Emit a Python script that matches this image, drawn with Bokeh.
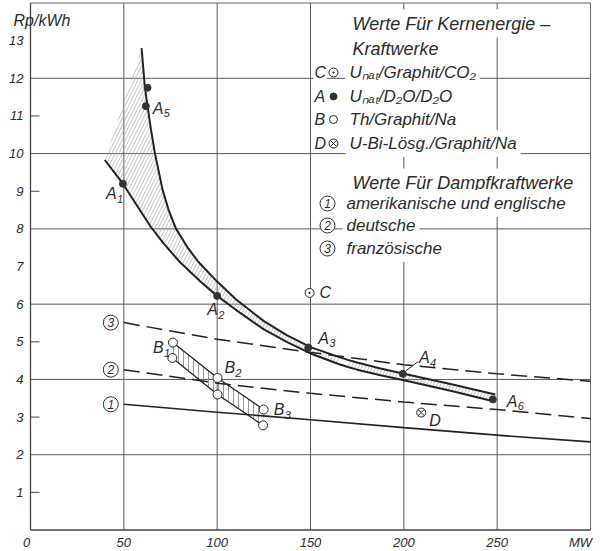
import numpy as np
from bokeh.plotting import figure
from bokeh.models import Range1d
from bokeh.core.properties import value
from bokeh.embed import file_html
from bokeh.resources import INLINE

# ---------------- data ----------------
x_limits = [0, 300]
y_limits = [0, 14]
x_ticks = [0, 50, 100, 150, 200, 250, 300]
x_tick_labels = ["0", "50", "100", "150", "200", "250", "MW"]
y_ticks = list(range(1, 14))
y_tick_labels = [str(v) for v in y_ticks]
y_minor_ticks = [1, 3, 5, 9, 11]
x_grid_ticks = [50, 100, 150, 200, 250]
y_grid_ticks = [2, 4, 6, 8, 10, 12]
y_title = "Rp/kWh"

# nuclear (A) band: upper and lower boundary curves
a_upper_x = [59.5, 61.3, 62.7, 64.5, 66.5, 70.7, 74, 78, 84.5, 90, 100, 110, 125, 137.5, 150,
             165, 170, 175, 187.5, 200, 225, 249]
a_upper_y = [12.8, 11.75, 11.26, 10.65, 10.05, 9.05, 8.5, 8.0, 7.48, 7.12, 6.6, 6.13, 5.55, 5.17, 4.86,
             4.6, 4.52, 4.45, 4.29, 4.15, 3.88, 3.6]
a_lower_x = [39.8, 49.5, 57, 64.5, 71.5, 80, 91, 100, 112.5, 125, 137.5, 150,
             165, 170, 175, 187.5, 200, 225, 248]
a_lower_y = [9.83, 9.2, 8.62, 8.05, 7.6, 7.12, 6.6, 6.22, 5.76, 5.33, 4.99, 4.69,
             4.41, 4.33, 4.26, 4.11, 3.98, 3.7, 3.42]

# Th/Graphit/Na (B) band
b_upper_x = [76.3, 100.2, 124.9]
b_upper_y = [4.98, 4.04, 3.2]
b_lower_x = [76.0, 100.2, 124.6]
b_lower_y = [4.57, 3.6, 2.78]

# steam power plants
steam_x = [50, 100, 150, 200, 250, 300]
steam1_y = [3.34, 3.13, 2.93, 2.72, 2.52, 2.34]   # amerikanische und englische
steam2_y = [4.26, 3.90, 3.63, 3.40, 3.20, 2.96]   # deutsche
steam3_y = [5.51, 5.07, 4.72, 4.39, 4.15, 3.95]   # französische
steam_names = ["1", "2", "3"]

# points
a_pts_x = [49.5, 61.8, 62.7, 100, 148.8, 199.5, 247.7]
a_pts_y = [9.2, 11.26, 11.75, 6.22, 4.85, 4.15, 3.47]
a_pts_sub = ["1", "5", "", "2", "3", "4", "6"]
b_pts_sub = ["1", "2", "3"]
c_pt = (149.5, 6.3)
d_pt = (209.3, 3.12)

# legend texts
legend_head1 = ["Werte Für Kernenergie –", "Kraftwerke"]
legend_letters = ["C", "A", "B", "D"]
legend_reactors = ["Uₙₐₜ/Graphit/CO₂", "Uₙₐₜ/D₂O/D₂O", "Th/Graphit/Na", "U-Bi-Lösg./Graphit/Na"]
legend_head2 = "Werte Für Dampfkraftwerke"
legend_steam = ["amerikanische und englische", "deutsche", "französische"]

# ---------------- layout helpers (pixel -> data) ----------------
W, H = 600, 550
PX_X = 560.0 / 300.0      # pixels per MW
PX_Y = 37.64              # pixels per Rp/kWh
X0, Y0 = 30.0, 529.5      # pixel position of the origin

def dx(px):
    return (px - X0) / PX_X

def dy(py):
    return (Y0 - py) / PX_Y

FONT = value("Liberation Sans")
INK = "#222222"
TXT = "#2b2b2b"
GRID = "#5a5a5a"

p = figure(width=W, height=H, output_backend="svg", toolbar_location=None,
           x_axis_type=None, y_axis_type=None,
           x_range=Range1d(dx(0), dx(W)), y_range=Range1d(dy(H), dy(0)),
           min_border=0, outline_line_color=None)
p.background_fill_color = "white"
p.border_fill_color = "white"

# grid
p.segment(x0=x_grid_ticks, y0=[y_limits[0]] * len(x_grid_ticks), x1=x_grid_ticks,
          y1=[y_limits[1]] * len(x_grid_ticks), line_color=GRID, line_width=1)
p.segment(x0=[x_limits[0]] * len(y_grid_ticks), y0=y_grid_ticks, x1=[x_limits[1]] * len(y_grid_ticks),
          y1=y_grid_ticks, line_color=GRID, line_width=1)
# frame
p.multi_line(xs=[[x_limits[1], x_limits[1]], [x_limits[0], x_limits[1]]],
             ys=[[y_limits[0], y_limits[1]], [y_limits[1], y_limits[1]]], line_color="#666666", line_width=1)
p.multi_line(xs=[[x_limits[0], x_limits[0]], [x_limits[0], x_limits[1]]],
             ys=[[y_limits[0], y_limits[1]], [y_limits[0], y_limits[0]]], line_color="#444444", line_width=1.3)
# minor ticks on the y axis
p.segment(x0=[x_limits[0]] * len(y_minor_ticks), y0=y_minor_ticks,
          x1=[x_limits[0] + 9 / PX_X] * len(y_minor_ticks), y1=y_minor_ticks, line_color="#444444", line_width=1)

tick = dict(text_font=FONT, text_font_style="italic", text_font_size="13px", text_color=TXT,
            text_baseline="middle")
p.text([dx(23)] * len(y_ticks), y_ticks, text=y_tick_labels, text_align="right", **tick)
p.text(x_ticks, [dy(542)] * len(x_ticks), text=x_tick_labels, text_align="center",
       x_offset=[-4, 0, 0, 0, 0, 0, -10], **tick)
p.text([dx(13)], [dy(20)], text=[y_title], text_align="left", text_font=FONT, text_font_style="italic",
       text_font_size="16px", text_color=TXT, text_baseline="middle")

# hatched nuclear band (two pieces, gap where dashed line crosses)
ux, uy = np.array(a_upper_x), np.array(a_upper_y)
lx, ly = np.array(a_lower_x), np.array(a_lower_y)
for mu, ml in ((ux <= 165, lx <= 165), (ux >= 170, lx >= 170)):
    p.patch(np.concatenate([ux[mu], lx[ml][::-1]]), np.concatenate([uy[mu], ly[ml][::-1]]),
            fill_alpha=0, line_alpha=0, hatch_pattern="/",
            hatch_color="#a8a8a8", hatch_scale=7, hatch_weight=0.7)

# hatched B band
p.patch(b_upper_x + b_lower_x[::-1], b_upper_y + b_lower_y[::-1], fill_alpha=0, line_alpha=0,
        hatch_pattern="|", hatch_color="#808080", hatch_scale=5, hatch_weight=0.8)

# curves
p.line(a_upper_x, a_upper_y, line_color=INK, line_width=2)
p.line(a_lower_x, a_lower_y, line_color=INK, line_width=2)
p.line(b_upper_x, b_upper_y, line_color=INK, line_width=1.3)
p.line(b_lower_x, b_lower_y, line_color=INK, line_width=1.3)
p.line(steam_x, steam1_y, line_color=INK, line_width=1.6)
p.line(steam_x, steam2_y, line_color=INK, line_width=1.5, line_dash="16 7")
p.line(steam_x, steam3_y, line_color=INK, line_width=1.5, line_dash="16 7")

# circled numbers at the start of steam curves
starts_y = [steam1_y[0], steam2_y[0], steam3_y[0]]
cx = [steam_x[0] - 13 / PX_X] * 3
circ = dict(marker="circle", size=15, fill_color="white", line_color=TXT, line_width=1)
num = dict(text_align="center", text_baseline="middle", text_font=FONT, text_font_style="italic",
           text_font_size="12px", text_color=TXT)
p.scatter(cx, starts_y, **circ)
p.text(cx, starts_y, text=steam_names, **num)

# points
p.scatter(a_pts_x, a_pts_y, marker="circle", size=7, fill_color="#333333", line_color="#333333")
p.scatter(b_upper_x + b_lower_x, b_upper_y + b_lower_y, marker="circle", size=9,
          fill_color="white", line_color=INK, line_width=1)
p.scatter([c_pt[0]], [c_pt[1]], marker="circle_dot", size=9, fill_color="white", line_color=INK)
p.scatter([d_pt[0]], [d_pt[1]], marker="circle_x", size=9, fill_color="white", line_color=INK)

# point labels (letter + subscript)
lab = dict(text_font=FONT, text_font_style="italic", text_font_size="16px", text_color=TXT,
           text_baseline="middle", text_align="left")
sub = dict(text_font=FONT, text_font_style="italic", text_font_size="11px", text_color=TXT,
           text_baseline="middle", text_align="left")
a_idx = [i for i, s in enumerate(a_pts_sub) if s]
a_off_x = {0: -17, 1: 7, 3: -10, 4: 10, 5: 16, 6: 14}
a_off_y = {0: 10, 1: 2, 3: 14, 4: -9, 5: -16, 6: 2}
ax_ = [a_pts_x[i] for i in a_idx]
ay_ = [a_pts_y[i] for i in a_idx]
p.text(ax_, ay_, text=["A"] * len(a_idx), x_offset=[a_off_x[i] for i in a_idx],
       y_offset=[a_off_y[i] for i in a_idx], **lab)
p.text(ax_, ay_, text=[a_pts_sub[i] for i in a_idx], x_offset=[a_off_x[i] + 11 for i in a_idx],
       y_offset=[a_off_y[i] + 5 for i in a_idx], **sub)
# leader line for A4
p.segment(x0=[a_pts_x[5] + 3 / PX_X], y0=[a_pts_y[5] + 3 / PX_Y], x1=[a_pts_x[5] + 15 / PX_X],
          y1=[a_pts_y[5] + 12 / PX_Y], line_color=INK, line_width=1)

b_off_x = [-20, 7, 10]
b_off_y = [5, -10, 0]
p.text(b_upper_x, b_upper_y, text=["B"] * 3, x_offset=b_off_x, y_offset=b_off_y, **lab)
p.text(b_upper_x, b_upper_y, text=b_pts_sub, x_offset=[o + 11 for o in b_off_x],
       y_offset=[o + 5 for o in b_off_y], **sub)
p.text([c_pt[0]], [c_pt[1]], text=["C"], x_offset=[10], y_offset=[0], **lab)
p.text([d_pt[0]], [d_pt[1]], text=["D"], x_offset=[8], y_offset=[8], **lab)

# legend block
leg = dict(text_font=FONT, text_font_style="italic", text_color=TXT,
           text_baseline="middle", text_align="left", background_fill_color="white")
p.text([dx(348)] * 2, [dy(23), dy(48)], text=legend_head1, text_font_size="18px", padding=4, **leg)
rows_y = [dy(72), dy(96), dy(119), dy(143)]
p.text([dx(313)] * 4, rows_y, text=legend_letters, text_font_size="16px", padding=1, **leg)
p.text([dx(345)] * 4, rows_y, text=legend_reactors, text_font_size="17px", padding=4, **leg)
p.scatter([dx(333)], [rows_y[0]], marker="circle_dot", size=9, fill_color="white", line_color=INK)
p.scatter([dx(333)], [rows_y[1]], marker="circle", size=7, fill_color="#333333", line_color="#333333")
p.scatter([dx(333)], [rows_y[2]], marker="circle", size=8, fill_color="white", line_color=INK)
p.scatter([dx(333)], [rows_y[3]], marker="circle_x", size=9, fill_color="white", line_color=INK)
p.text([dx(348)], [dy(182)], text=[legend_head2], text_font_size="18px", padding=4, **leg)
srows_y = [dy(203), dy(225), dy(248)]
p.text([dx(342)] * 3, srows_y, text=legend_steam, text_font_size="17px", padding=4, **leg)
p.scatter([dx(327)] * 3, srows_y, **circ)
p.text([dx(327)] * 3, srows_y, text=steam_names, **num)

open("out.html", "w").write(file_html(p, INLINE))
